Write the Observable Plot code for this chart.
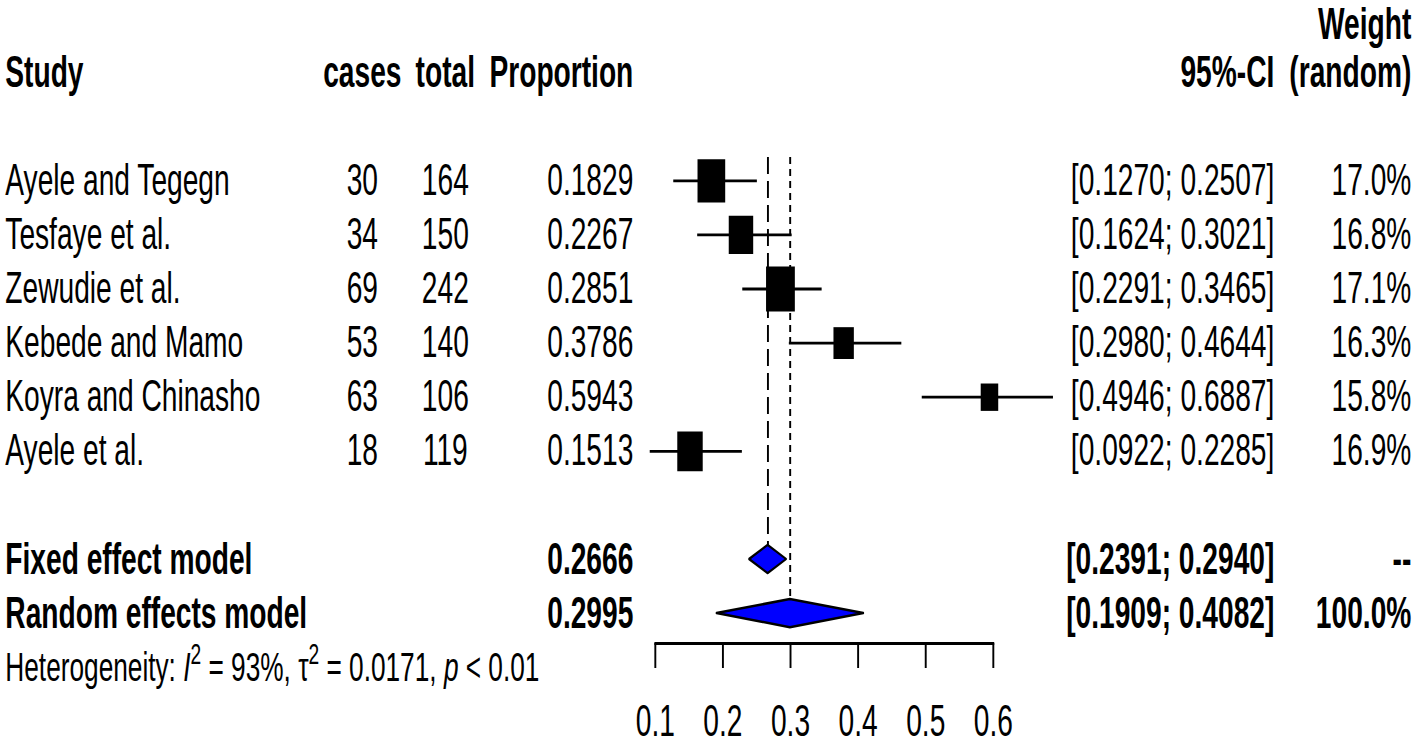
<!DOCTYPE html>
<html><head><meta charset="utf-8">
<script src="https://cdn.jsdelivr.net/npm/d3@7"></script>
<script src="https://cdn.jsdelivr.net/npm/@observablehq/plot@0.6"></script>
<style>
html,body{margin:0;padding:0;background:#fff;}
#chart{width:1418px;height:746px;overflow:hidden;}
</style>
</head><body><div id="chart"></div>
<script>
// ---------- data ----------
const studies = ["Ayele and Tegegn", "Tesfaye et al.", "Zewudie et al.", "Kebede and Mamo", "Koyra and Chinasho", "Ayele et al."];
const cases = [30, 34, 69, 53, 63, 18];
const totals = [164, 150, 242, 140, 106, 119];
const proportion = [0.1829, 0.2267, 0.2851, 0.3786, 0.5943, 0.1513];
const ciLower = [0.1270, 0.1624, 0.2291, 0.2980, 0.4946, 0.0922];
const ciUpper = [0.2507, 0.3021, 0.3465, 0.4644, 0.6887, 0.2285];
const weightRandom = [17.0, 16.8, 17.1, 16.3, 15.8, 16.9];

const models = ["Fixed effect model", "Random effects model"];
const modelEst = [0.2666, 0.2995];
const modelLower = [0.2391, 0.1909];
const modelUpper = [0.2940, 0.4082];
const modelWeight = ["--", "100.0%"];

const headers = ["Study", "cases", "total", "Proportion", "95%-CI", "(random)"];
const weightHeader = "Weight";
const hetParts = [
  {t: "Heterogeneity: "}, {t: "I", it: true}, {t: "2", sup: true},
  {t: " = 93%, "}, {t: "\u03c4"}, {t: "2", sup: true},
  {t: " = 0.0171, "}, {t: "p", it: true}, {t: " < 0.01"}
];
const xTicks = [0.1, 0.2, 0.3, 0.4, 0.5, 0.6];

// ---------- layout ----------
const K = 0.64;                 // horizontal compression of the picture
const W = 1418 / K, H = 746;
const px = v => v / K;
const left = px(655), right = px(993);
const dxAt = p => px(p) - left;
const FS = 44;
const rowWeightHdr = 0, rowHdr = 1, rowFirst = 3, rowModel = [10, 11], rowHet = 12;
const refTop = 2.57, diamondHalf = 0.26, maxSide = 45;

const rows = studies.map((s, i) => ({
  study: s, cases: cases[i], total: totals[i], p: proportion[i],
  lo: ciLower[i], hi: ciUpper[i], w: weightRandom[i], row: rowFirst + i,
  iv: totals[i] / (proportion[i] * (1 - proportion[i]))
}));
const maxIv = d3.max(rows, d => d.iv);
rows.forEach(d => d.side = maxSide * Math.sqrt(d.iv / maxIv));

const mrows = models.map((m, i) => ({
  model: m, est: modelEst[i], lo: modelLower[i], hi: modelUpper[i], w: modelWeight[i], row: rowModel[i]
}));
const diamonds = mrows.flatMap(d => [
  {model: d.model, y: d.row - diamondHalf, x1: d.est, x2: d.est},
  {model: d.model, y: d.row, x1: d.lo, x2: d.hi},
  {model: d.model, y: d.row + diamondHalf, x1: d.est, x2: d.est}
]);
const ci = (a, b) => `[${a.toFixed(4)}; ${b.toFixed(4)}]`;

const T = (data, opts) => Plot.text(data, {frameAnchor: "left", fill: "black", fontSize: FS, ...opts});

const svg = Plot.plot({
  width: W, height: H,
  marginLeft: left, marginRight: W - right, marginTop: 0, marginBottom: H - 643,
  style: {fontFamily: "'Liberation Sans', Arial, Helvetica, sans-serif", fontSize: FS + "px", background: "white", color: "black"},
  x: {type: "linear", domain: [0.1, 0.6]},
  y: {type: "linear", domain: [0, 12], range: [18, 18 + 12 * 54.1], axis: null},
  r: {type: "identity"},
  marks: [
    // headers
    T([weightHeader], {text: d => d, y: () => rowWeightHdr, dx: dxAt(1411), dy: 6, textAnchor: "end", fontWeight: "bold"}),
    T([headers[0]], {text: d => d, y: () => rowHdr, dx: dxAt(5), textAnchor: "start", fontWeight: "bold"}),
    T([headers[1]], {text: d => d, y: () => rowHdr, dx: dxAt(362), textAnchor: "middle", fontWeight: "bold"}),
    T([headers[2]], {text: d => d, y: () => rowHdr, dx: dxAt(445), textAnchor: "middle", fontWeight: "bold"}),
    T([headers[3]], {text: d => d, y: () => rowHdr, dx: dxAt(633), textAnchor: "end", fontWeight: "bold"}),
    T([headers[4]], {text: d => d, y: () => rowHdr, dx: dxAt(1274), textAnchor: "end", fontWeight: "bold"}),
    T([headers[5]], {text: d => d, y: () => rowHdr, dx: dxAt(1411), textAnchor: "end", fontWeight: "bold"}),
    // study columns
    T(rows, {text: "study", y: "row", dx: dxAt(5), textAnchor: "start"}),
    T(rows, {text: d => String(d.cases), y: "row", dx: dxAt(362), textAnchor: "middle"}),
    T(rows, {text: d => String(d.total), y: "row", dx: dxAt(445), textAnchor: "middle"}),
    T(rows, {text: d => d.p.toFixed(4), y: "row", dx: dxAt(633), textAnchor: "end"}),
    T(rows, {text: d => ci(d.lo, d.hi), y: "row", dx: dxAt(1274), textAnchor: "end"}),
    T(rows, {text: d => d.w.toFixed(1) + "%", y: "row", dx: dxAt(1411), textAnchor: "end"}),
    // model rows
    T(mrows, {text: "model", y: "row", dx: dxAt(5), textAnchor: "start", fontWeight: "bold"}),
    T(mrows, {text: d => d.est.toFixed(4), y: "row", dx: dxAt(633), textAnchor: "end", fontWeight: "bold"}),
    T(mrows, {text: d => ci(d.lo, d.hi), y: "row", dx: dxAt(1274), textAnchor: "end", fontWeight: "bold"}),
    T(mrows, {text: "w", y: "row", dx: dxAt(1411), textAnchor: "end", fontWeight: "bold"}),
    // heterogeneity (rich text built below)
    T([hetParts.map(d => d.t).join("")], {text: d => d, y: () => rowHet, dx: dxAt(5), textAnchor: "start", fontSize: 41}),
    // reference lines
    Plot.ruleX([mrows[0]], {x: "est", y1: refTop, y2: d => d.row - diamondHalf, stroke: "black", strokeWidth: 3, strokeDasharray: "17,7"}),
    Plot.ruleX([mrows[1]], {x: "est", y1: refTop, y2: d => d.row - diamondHalf, stroke: "black", strokeWidth: 3, strokeDasharray: "7,5"}),
    // CIs and squares
    Plot.ruleY(rows, {y: "row", x1: "lo", x2: "hi", stroke: "black", strokeWidth: 2.8}),
    Plot.dot(rows, {x: "p", y: "row", r: d => d.side / Math.sqrt(Math.PI), symbol: "square", fill: "black", stroke: "none"}),
    // diamonds
    Plot.areaX(diamonds, {y: "y", x1: "x1", x2: "x2", z: "model", fill: "#0000ff", stroke: "black", strokeWidth: 2.5}),
    // axis
    Plot.frame({anchor: "bottom", stroke: "black", strokeWidth: 2.8}),
    Plot.axisX({ticks: xTicks, anchor: "bottom", tickSize: 25, tickPadding: 36, strokeWidth: 3, tickFormat: d => d.toFixed(1), fontSize: FS, fill: "black", stroke: "black"})
  ]
});

svg.setAttribute("width", 1418);
svg.setAttribute("height", 746);
svg.setAttribute("viewBox", `0 0 ${W} ${H}`);
svg.setAttribute("preserveAspectRatio", "none");
svg.style.width = "1418px";
svg.style.height = "746px";
svg.style.maxWidth = "none";

// rich heterogeneity text
svg.querySelectorAll("text").forEach(t => {
  if (t.textContent.startsWith("Heterogeneity")) {
    while (t.firstChild) t.removeChild(t.firstChild);
    const NS = "http://www.w3.org/2000/svg";
    let raised = false;
    hetParts.forEach(part => {
      const s = document.createElementNS(NS, "tspan");
      s.textContent = part.t;
      if (part.it) s.setAttribute("font-style", "italic");
      if (part.sup) { s.setAttribute("font-size", "30"); s.setAttribute("dy", "-17"); raised = true; }
      else if (raised) { s.setAttribute("dy", "17"); raised = false; }
      t.appendChild(s);
    });
  }
});
document.getElementById("chart").appendChild(svg);
</script>
</body></html>
